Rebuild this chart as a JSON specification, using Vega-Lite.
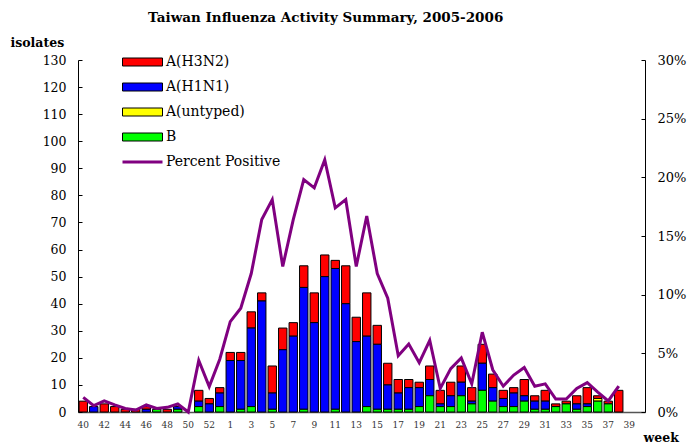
{
  "$schema": "https://vega.github.io/schema/vega-lite/v6.json",
  "width": 567,
  "height": 352,
  "autosize": "none",
  "padding": {"left": 78, "top": 60, "right": 55, "bottom": 31},
  "background": "white",
  "title": {"text": "Taiwan Influenza Activity Summary, 2005-2006", "font": "DejaVu Serif", "fontSize": 13.5, "fontWeight": "bold", "anchor": "start", "frame": "group", "dx": 70, "offset": 12, "color": "black"},
  "config": {"view": {"stroke": null}, "font": "DejaVu Serif"},
  "data": {"values": [
    {"wk": "40", "H3N2": 4, "H1N1": 0, "untyped": 0, "B": 0, "pct": 1.25},
    {"wk": "41", "H3N2": 0, "H1N1": 2, "untyped": 0, "B": 0, "pct": 0.54},
    {"wk": "42", "H3N2": 3, "H1N1": 0, "untyped": 0, "B": 0, "pct": 0.94},
    {"wk": "43", "H3N2": 2, "H1N1": 0, "untyped": 0, "B": 0, "pct": 0.6},
    {"wk": "44", "H3N2": 1, "H1N1": 0, "untyped": 0, "B": 0, "pct": 0.3},
    {"wk": "45", "H3N2": 1, "H1N1": 0, "untyped": 0, "B": 0, "pct": 0.17},
    {"wk": "46", "H3N2": 1, "H1N1": 1, "untyped": 0, "B": 0, "pct": 0.6},
    {"wk": "47", "H3N2": 0, "H1N1": 0, "untyped": 0, "B": 1, "pct": 0.3},
    {"wk": "48", "H3N2": 1, "H1N1": 0, "untyped": 0, "B": 0, "pct": 0.4},
    {"wk": "49", "H3N2": 0, "H1N1": 1, "untyped": 0, "B": 1, "pct": 0.68},
    {"wk": "50", "H3N2": 0, "H1N1": 0, "untyped": 0, "B": 0, "pct": 0},
    {"wk": "51", "H3N2": 4, "H1N1": 2, "untyped": 0, "B": 2, "pct": 4.4},
    {"wk": "52", "H3N2": 2, "H1N1": 3, "untyped": 0, "B": 0, "pct": 2.16},
    {"wk": "53", "H3N2": 2, "H1N1": 5, "untyped": 0, "B": 2, "pct": 4.5},
    {"wk": "1", "H3N2": 3, "H1N1": 19, "untyped": 0, "B": 0, "pct": 7.7},
    {"wk": "2", "H3N2": 3, "H1N1": 18, "untyped": 0, "B": 1, "pct": 8.84},
    {"wk": "3", "H3N2": 6, "H1N1": 29, "untyped": 0, "B": 2, "pct": 11.8},
    {"wk": "4", "H3N2": 3, "H1N1": 41, "untyped": 0, "B": 0, "pct": 16.4},
    {"wk": "5", "H3N2": 10, "H1N1": 6, "untyped": 0, "B": 1, "pct": 18.1},
    {"wk": "6", "H3N2": 8, "H1N1": 23, "untyped": 0, "B": 0, "pct": 12.4},
    {"wk": "7", "H3N2": 5, "H1N1": 28, "untyped": 0, "B": 0, "pct": 16.4},
    {"wk": "8", "H3N2": 8, "H1N1": 45, "untyped": 0, "B": 1, "pct": 19.8},
    {"wk": "9", "H3N2": 11, "H1N1": 33, "untyped": 0, "B": 0, "pct": 19.1},
    {"wk": "10", "H3N2": 8, "H1N1": 50, "untyped": 0, "B": 0, "pct": 21.5},
    {"wk": "11", "H3N2": 3, "H1N1": 52, "untyped": 0, "B": 1, "pct": 17.4},
    {"wk": "12", "H3N2": 14, "H1N1": 40, "untyped": 0, "B": 0, "pct": 18.1},
    {"wk": "13", "H3N2": 9, "H1N1": 26, "untyped": 0, "B": 0, "pct": 12.4},
    {"wk": "14", "H3N2": 16, "H1N1": 26, "untyped": 0, "B": 2, "pct": 16.7},
    {"wk": "15", "H3N2": 7, "H1N1": 24, "untyped": 0, "B": 1, "pct": 11.8},
    {"wk": "16", "H3N2": 8, "H1N1": 9, "untyped": 0, "B": 1, "pct": 9.7},
    {"wk": "17", "H3N2": 5, "H1N1": 6, "untyped": 0, "B": 1, "pct": 4.8},
    {"wk": "18", "H3N2": 3, "H1N1": 8, "untyped": 0, "B": 1, "pct": 5.8},
    {"wk": "19", "H3N2": 2, "H1N1": 7, "untyped": 0, "B": 2, "pct": 4.2},
    {"wk": "20", "H3N2": 5, "H1N1": 6, "untyped": 0, "B": 6, "pct": 6.1},
    {"wk": "21", "H3N2": 5, "H1N1": 1, "untyped": 0, "B": 2, "pct": 2.0},
    {"wk": "22", "H3N2": 5, "H1N1": 4, "untyped": 0, "B": 2, "pct": 3.7},
    {"wk": "23", "H3N2": 6, "H1N1": 5, "untyped": 0, "B": 6, "pct": 4.6},
    {"wk": "24", "H3N2": 5, "H1N1": 1, "untyped": 0, "B": 3, "pct": 2.4},
    {"wk": "25", "H3N2": 7, "H1N1": 10, "untyped": 0, "B": 8, "pct": 6.8},
    {"wk": "26", "H3N2": 5, "H1N1": 5, "untyped": 0, "B": 4, "pct": 3.6},
    {"wk": "27", "H3N2": 3, "H1N1": 3, "untyped": 0, "B": 2, "pct": 2.2},
    {"wk": "28", "H3N2": 2, "H1N1": 5, "untyped": 0, "B": 2, "pct": 3.15},
    {"wk": "29", "H3N2": 6, "H1N1": 2, "untyped": 0, "B": 4, "pct": 3.8},
    {"wk": "30", "H3N2": 2, "H1N1": 3, "untyped": 0, "B": 1, "pct": 2.2},
    {"wk": "31", "H3N2": 4, "H1N1": 3, "untyped": 0, "B": 1, "pct": 2.4},
    {"wk": "32", "H3N2": 1, "H1N1": 0, "untyped": 0, "B": 2, "pct": 1.1},
    {"wk": "33", "H3N2": 1, "H1N1": 0, "untyped": 0, "B": 3, "pct": 1.1},
    {"wk": "34", "H3N2": 3, "H1N1": 2, "untyped": 0, "B": 1, "pct": 2.0},
    {"wk": "35", "H3N2": 6, "H1N1": 1, "untyped": 0, "B": 2, "pct": 2.5},
    {"wk": "36", "H3N2": 1, "H1N1": 0, "untyped": 1, "B": 4, "pct": 1.7},
    {"wk": "37", "H3N2": 1, "H1N1": 0, "untyped": 0, "B": 3, "pct": 0.94},
    {"wk": "38", "H3N2": 8, "H1N1": 0, "untyped": 0, "B": 0, "pct": 2.2},
    {"wk": "39", "H3N2": 0, "H1N1": 0, "untyped": 0, "B": 0, "pct": null}
  ]},
  "layer": [
    {
      "transform": [
        {"fold": ["H3N2", "H1N1", "untyped", "B"], "as": ["type", "count"]},
        {"filter": "datum.count > 0"},
        {"calculate": "indexof(['B','untyped','H1N1','H3N2'], datum.type)", "as": "ord"}
      ],
      "mark": {"type": "bar", "stroke": "black", "strokeWidth": 1},
      "encoding": {
        "x": {
          "field": "wk", "type": "ordinal",
          "scale": {"domain": ["40","41","42","43","44","45","46","47","48","49","50","51","52","53","1","2","3","4","5","6","7","8","9","10","11","12","13","14","15","16","17","18","19","20","21","22","23","24","25","26","27","28","29","30","31","32","33","34","35","36","37","38","39","end"], "paddingInner": 0.2, "paddingOuter": 0.1},
          "axis": {
            "values": ["40","42","44","46","48","50","52","1","3","5","7","9","11","13","15","17","19","21","23","25","27","29","31","33","35","37","39"],
            "labelAngle": 0, "labelFontSize": 9, "labelColor": "#333", "labelPadding": 8,
            "ticks": false, "domainColor": "#555", "domainWidth": 1.5,
            "title": "week", "titleFontSize": 12.5, "titleFontWeight": "bold",
            "titleAlign": "left", "titleBaseline": "alphabetic", "titleX": 565, "titleY": 29, "titleColor": "black"
          }
        },
        "y": {
          "field": "count", "type": "quantitative", "stack": "zero",
          "scale": {"domain": [0, 130], "nice": false},
          "axis": {
            "values": [0,10,20,30,40,50,60,70,80,90,100,110,120,130],
            "grid": false, "domainColor": "black", "tickColor": "black", "tickSize": -4, "labelPadding": 16,
            "labelFontSize": 12.5, "labelColor": "black",
            "title": "isolates", "titleAngle": 0, "titleAlign": "left", "titleBaseline": "middle",
            "titleX": -68, "titleY": -18, "titleFontSize": 12.5, "titleFontWeight": "bold", "titleColor": "black"
          }
        },
        "fill": {
          "field": "type", "type": "nominal",
          "scale": {"domain": ["H3N2", "H1N1", "untyped", "B"], "range": ["#FF0000", "#0000FF", "#FFFF00", "#00FF00"]},
          "legend": {
            "orient": "none", "legendX": 41.5, "legendY": -5, "padding": 0, "title": null,
            "symbolType": "M-5,-1H5V1H-5Z", "symbolSize": 64, "symbolStrokeColor": "black", "symbolStrokeWidth": 1,
            "symbolOffset": 16, "labelOffset": 16.5, "rowPadding": 11,
            "labelFontSize": 14, "labelColor": "black",
            "labelExpr": "datum.label == 'B' ? 'B' : 'A(' + datum.label + ')'"
          }
        },
        "order": {"field": "ord", "type": "quantitative"}
      }
    },
    {
      "transform": [{"filter": "isValid(datum.pct)"}],
      "mark": {"type": "line", "strokeWidth": 3},
      "encoding": {
        "x": {"field": "wk", "type": "ordinal"},
        "y": {
          "field": "pct", "type": "quantitative",
          "scale": {"domain": [0, 30], "nice": false},
          "axis": {
            "orient": "right", "values": [0,5,10,15,20,25,30], "labelExpr": "datum.value + '%'",
            "grid": false, "domainColor": "black", "tickColor": "black", "tickSize": -4, "labelPadding": 16,
            "labelFontSize": 13, "labelColor": "black", "title": null
          }
        },
        "stroke": {
          "datum": "Percent Positive", "type": "nominal",
          "scale": {"range": ["#800080"]},
          "legend": {
            "orient": "none", "legendX": 41.5, "legendY": 95, "padding": 0, "title": null,
            "symbolType": "M-5,0H5", "symbolSize": 64, "symbolStrokeWidth": 3,
            "symbolOffset": 16, "labelOffset": 16.5,
            "labelFontSize": 14, "labelColor": "black"
          }
        }
      }
    }
  ],
  "resolve": {"scale": {"y": "independent", "fill": "independent", "stroke": "independent"}}
}
